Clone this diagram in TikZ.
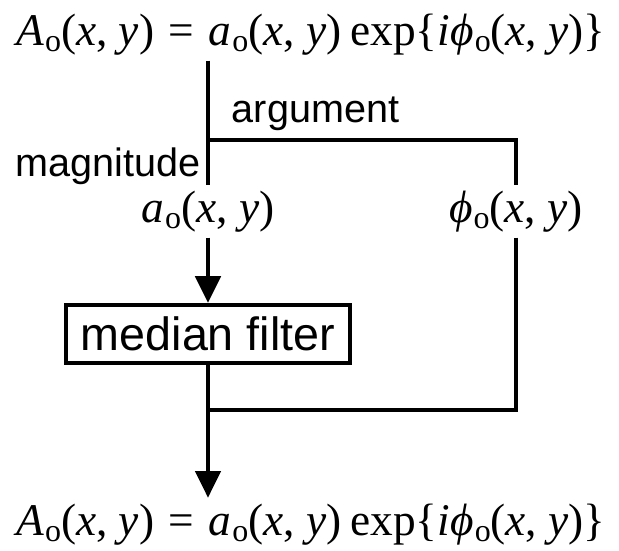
\documentclass[tikz,border=0pt]{standalone}
\usepackage{fontspec}
\setmainfont{Liberation Serif}
\setsansfont{Liberation Sans}
\usetikzlibrary{arrows.meta,calc}

\newcommand{\xyarg}{(\textit{x}, \textit{y})}
\newcommand{\osub}{\kern0.02em\raisebox{-0.3ex}{\fontsize{24}{24}\selectfont o}}
\newcommand{\fieldeq}{\textit{A}\osub\xyarg\hspace{0.32em}=\hspace{0.32em}\textit{a}\osub\xyarg\hspace{0.2em}exp\{\textit{iϕ}\osub\xyarg\}}

\begin{document}
\begin{tikzpicture}[x=0.75pt,y=-0.75pt,>={Triangle[length=20pt,width=19pt]},line width=2.8pt,line join=miter,
    eqn/.style={font=\fontsize{34}{40}\selectfont,inner sep=3pt},
    tag/.style={font=\sffamily\fontsize{29.7}{34}\selectfont,inner sep=0pt},
    filterbox/.style={draw,line width=2.8pt,font=\sffamily\fontsize{35}{40}\selectfont,
      minimum width=213pt,minimum height=44pt,inner sep=0pt}]
  \useasboundingbox (0,0) rectangle (619,551);
  \node[eqn,anchor=base] (fin) at (311,45) {\fieldeq};
  \node[eqn,anchor=base] (mag) at (208,222) {\textit{a}\osub\xyarg};
  \node[eqn,anchor=base] (arg) at (516,222) {\textit{ϕ}\osub\xyarg};
  \node[filterbox] (filt) at (208,334) {median filter};
  \node[eqn,anchor=base] (fout) at (311,535) {\fieldeq};
  \coordinate (split) at (208,140);
  \coordinate (turn) at (516,140);
  \coordinate (join) at (208,410);
  \node[tag,anchor=base west] (argtxt) at (230,122) {argument};
  \node[tag,anchor=base east] (magtxt) at (202,176) {magnitude};
  % magnitude branch
  \draw (fin.south -| mag.north) -- (mag.north);
  \draw[->] (mag.south) -- (filt.north);
  \draw[->] (filt.south) -- (filt.south |- fout.north);
  % argument branch
  \draw (split) -- (turn) -- (arg.north);
  \draw (arg.south) -- (arg.south |- join) -- (join);
\end{tikzpicture}
\end{document}
